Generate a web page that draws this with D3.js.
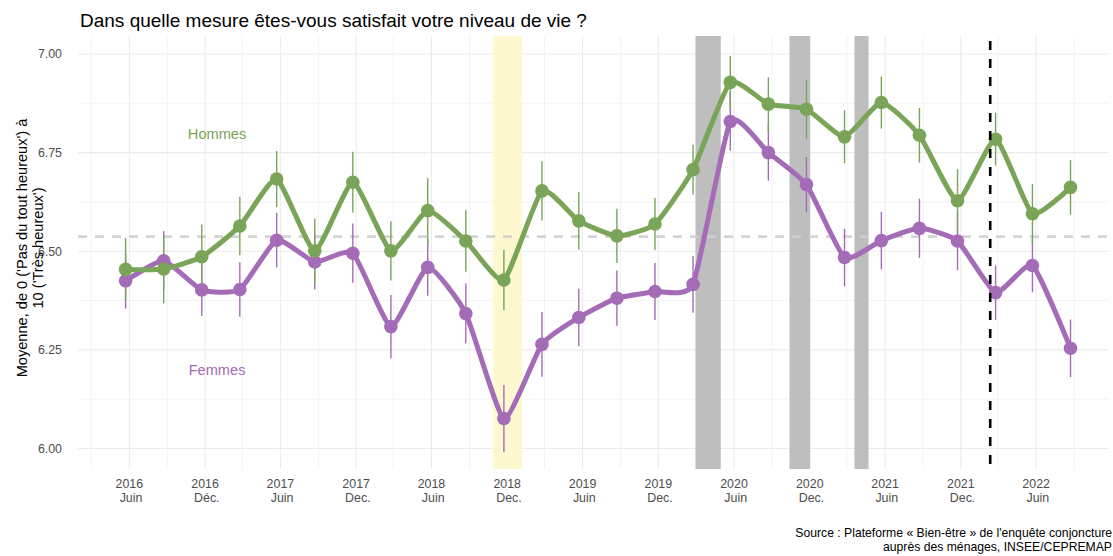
<!DOCTYPE html>
<html>
<head>
<meta charset="utf-8">
<script src="https://cdn.jsdelivr.net/npm/d3@7"></script>
<style>
  html, body { margin: 0; padding: 0; background: #ffffff; }
  svg { display: block; font-family: "Liberation Sans", Arial, sans-serif; }
  text { white-space: pre; }
</style>
</head>
<body>
<script>
// ---------------- data ----------------
const dates = ["2016-05-23","2016-08-23","2016-11-23","2017-02-23","2017-05-23","2017-08-23",
  "2017-11-23","2018-02-23","2018-05-23","2018-08-23","2018-11-23","2019-02-23","2019-05-23",
  "2019-08-23","2019-11-23","2020-02-23","2020-05-23","2020-08-23","2020-11-23","2021-02-23",
  "2021-05-23","2021-08-23","2021-11-23","2022-02-23","2022-05-23","2022-08-23"];
const hommes = [6.454,6.455,6.486,6.564,6.683,6.501,6.675,6.501,6.603,6.526,6.427,6.653,6.577,
  6.539,6.569,6.707,6.928,6.873,6.860,6.790,6.877,6.794,6.628,6.784,6.595,6.662];
const hommesErr = [0.079,0.087,0.082,0.074,0.071,0.082,0.077,0.075,0.082,0.078,0.076,0.075,0.073,
  0.069,0.066,0.063,0.067,0.068,0.075,0.067,0.066,0.069,0.080,0.067,0.075,0.069];
const femmes = [6.425,6.476,6.402,6.403,6.528,6.473,6.495,6.309,6.459,6.342,6.076,6.264,6.332,
  6.381,6.398,6.416,6.829,6.750,6.669,6.484,6.527,6.558,6.526,6.395,6.464,6.254];
const femmesErr = [0.070,0.075,0.066,0.069,0.069,0.070,0.075,0.080,0.072,0.076,0.085,0.082,0.073,
  0.070,0.072,0.072,0.074,0.071,0.070,0.073,0.073,0.075,0.074,0.069,0.068,0.073];

const seriesNames = ["Femmes", "Hommes"];
const seriesColors = ["#a46cb7", "#7aa457"];
const labelDates = ["2016-12-30", "2016-12-30"];
const labelValues = [6.199, 6.797];

const tickDates = ["2016-06-01","2016-12-01","2017-06-01","2017-12-01","2018-06-01","2018-12-01",
  "2019-06-01","2019-12-01","2020-06-01","2020-12-01","2021-06-01","2021-12-01","2022-06-01"];
const tickYears = ["2016","2016","2017","2017","2018","2018","2019","2019","2020","2020","2021","2021","2022"];
const tickMonths = [" Juin"," Déc."," Juin"," Dec."," Juin"," Dec."," Juin"," Dec."," Juin"," Dec."," Juin"," Dec."," Juin"];
const minorTickDates = ["2016-03-01","2016-09-01","2017-03-01","2017-09-01","2018-03-01","2018-09-01",
  "2019-03-01","2019-09-01","2020-03-01","2020-09-01","2021-03-01","2021-09-01","2022-03-01","2022-09-01"];
const yTicks = [6.00, 6.25, 6.50, 6.75, 7.00];
const yMinorTicks = [6.125, 6.375, 6.625, 6.875];

const yellowPeriods = [["2018-10-27", "2019-01-06"]];
const grayPeriods = [["2020-02-29", "2020-04-30"], ["2020-10-13", "2020-12-02"], ["2021-03-19", "2021-04-22"]];
const referenceLevel = 6.537;
const eventDate = "2022-02-10";

const titleText = "Dans quelle mesure êtes-vous satisfait votre niveau de vie ?";
const yTitleLines = ["Moyenne, de 0 ('Pas du tout heureux') à", "10 ('Très heureux')"];
const captionLines = ["Source : Plateforme « Bien-être » de l'enquête conjoncture", "auprès des ménages, INSEE/CEPREMAP"];

// ---------------- chart ----------------
const W = 1113, H = 556;
const panel = { left: 78, right: 1109, top: 36, bottom: 469 };
const parse = d3.utcParse("%Y-%m-%d");

const x = d3.scaleUtc()
  .domain([parse("2016-01-29"), parse("2022-11-24")])
  .range([panel.left, panel.right]);
const y = d3.scaleLinear()
  .domain([5.948, 7.0456])
  .range([panel.bottom, panel.top]);

const svg = d3.select("body").append("svg").attr("width", W).attr("height", H);

// grid
const grid = svg.append("g");
grid.selectAll("line.ymin").data(yMinorTicks).join("line")
  .attr("x1", panel.left).attr("x2", panel.right)
  .attr("y1", d => y(d)).attr("y2", d => y(d))
  .attr("stroke", "#ebebeb").attr("stroke-width", 0.6);
grid.selectAll("line.xmin").data(minorTickDates).join("line")
  .attr("x1", d => x(parse(d))).attr("x2", d => x(parse(d)))
  .attr("y1", panel.top).attr("y2", panel.bottom)
  .attr("stroke", "#ebebeb").attr("stroke-width", 0.6);
grid.selectAll("line.ymaj").data(yTicks).join("line")
  .attr("x1", panel.left).attr("x2", panel.right)
  .attr("y1", d => y(d)).attr("y2", d => y(d))
  .attr("stroke", "#ebebeb").attr("stroke-width", 1.1);
grid.selectAll("line.xmaj").data(tickDates).join("line")
  .attr("x1", d => x(parse(d))).attr("x2", d => x(parse(d)))
  .attr("y1", panel.top).attr("y2", panel.bottom)
  .attr("stroke", "#ebebeb").attr("stroke-width", 1.1);

// shaded periods
svg.append("g").selectAll("rect").data(yellowPeriods).join("rect")
  .attr("x", d => x(parse(d[0]))).attr("width", d => x(parse(d[1])) - x(parse(d[0])))
  .attr("y", panel.top).attr("height", panel.bottom - panel.top)
  .attr("fill", "#fdf8d0");
svg.append("g").selectAll("rect").data(grayPeriods).join("rect")
  .attr("x", d => x(parse(d[0]))).attr("width", d => x(parse(d[1])) - x(parse(d[0])))
  .attr("y", panel.top).attr("height", panel.bottom - panel.top)
  .attr("fill", "#bebebe");

// reference level
svg.append("line")
  .attr("x1", panel.left).attr("x2", panel.right)
  .attr("y1", y(referenceLevel)).attr("y2", y(referenceLevel))
  .attr("stroke", "#d0d0d0").attr("stroke-width", 2.6).attr("stroke-dasharray", "9,8")
  .attr("opacity", 0.9);

// series
const series = [
  { name: seriesNames[0], color: seriesColors[0], values: femmes, err: femmesErr },
  { name: seriesNames[1], color: seriesColors[1], values: hommes, err: hommesErr }
].map(s => ({ ...s, pts: dates.map((d, i) => ({ date: parse(d), v: s.values[i], e: s.err[i] })) }));

// error bars first
series.forEach(s => {
  svg.append("g").selectAll("line").data(s.pts).join("line")
    .attr("x1", d => x(d.date)).attr("x2", d => x(d.date))
    .attr("y1", d => y(d.v - d.e)).attr("y2", d => y(d.v + d.e))
    .attr("stroke", s.color).attr("stroke-width", 1.4);
});

const line = d3.line().x(d => x(d.date)).y(d => y(d.v)).curve(d3.curveCardinal.tension(0.5));
series.forEach(s => {
  svg.append("path").datum(s.pts)
    .attr("d", line).attr("fill", "none")
    .attr("stroke", s.color).attr("stroke-width", 5).attr("stroke-linejoin", "round").attr("stroke-linecap", "round");
  svg.append("g").selectAll("circle").data(s.pts).join("circle")
    .attr("cx", d => x(d.date)).attr("cy", d => y(d.v)).attr("r", 6.8)
    .attr("fill", s.color);
});

// event line
svg.append("line")
  .attr("x1", x(parse(eventDate))).attr("x2", x(parse(eventDate)))
  .attr("y1", panel.top + 5).attr("y2", panel.bottom)
  .attr("stroke", "#000000").attr("stroke-width", 2.6).attr("stroke-dasharray", "9,9");

// series labels
series.forEach((s, i) => {
  svg.append("text")
    .attr("x", x(parse(labelDates[i]))).attr("y", y(labelValues[i]))
    .attr("text-anchor", "middle").attr("dominant-baseline", "central")
    .attr("font-size", 14.6).attr("fill", s.color)
    .text(s.name);
});

// y axis labels
svg.append("g").selectAll("text").data(yTicks).join("text")
  .attr("x", 62).attr("y", d => y(d)).attr("dy", "0.35em")
  .attr("text-anchor", "end").attr("font-size", 12.4).attr("fill", "#4d4d4d")
  .text(d => d3.format(".2f")(d));

// x axis labels
const xl = svg.append("g").selectAll("text").data(tickDates).join("text")
  .attr("text-anchor", "middle").attr("font-size", 12.4).attr("fill", "#4d4d4d");
xl.append("tspan").attr("x", d => x(parse(d))).attr("y", 488).text((d, i) => tickYears[i]);
xl.append("tspan").attr("x", d => x(parse(d))).attr("y", 502).text((d, i) => tickMonths[i]);

// y axis title
svg.append("g").attr("transform", "translate(0,248) rotate(-90)")
  .selectAll("text").data(yTitleLines).join("text")
  .attr("x", 0).attr("y", (d, i) => 27 + i * 16)
  .attr("text-anchor", "middle").attr("font-size", 14.6).attr("fill", "#000")
  .text(d => d);

// title
svg.append("text").attr("x", 80).attr("y", 27)
  .attr("font-size", 19).attr("fill", "#000").text(titleText);

// caption
svg.append("g").selectAll("text").data(captionLines).join("text")
  .attr("x", 1112).attr("y", (d, i) => 537 + i * 14)
  .attr("text-anchor", "end").attr("font-size", 12.2).attr("fill", "#000")
  .text(d => d);
</script>
</body>
</html>
